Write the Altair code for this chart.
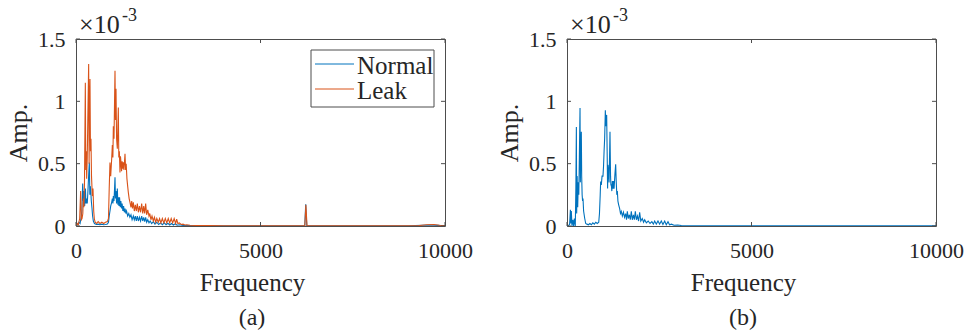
import altair as alt
import pandas as pd

# ---------------- data (amplitudes in units of 1e-3) ----------------
leak_freq = [0, 40, 63, 100, 126, 145, 163, 185, 199, 215, 230, 253, 265, 280, 289, 305, 320, 343, 355, 366,
             379, 392, 406, 420, 443, 460, 480, 497, 520, 560, 600, 650, 700, 750, 800, 850, 880, 900, 921, 940,
             967, 985, 1000, 1012, 1030, 1045, 1057, 1070, 1084, 1100, 1120, 1135, 1147, 1160, 1175, 1192, 1205,
             1219, 1235, 1250, 1265, 1283, 1300, 1315, 1328, 1345, 1360, 1380, 1400, 1418, 1440, 1463, 1490, 1510,
             1530, 1554, 1580, 1608, 1635, 1662, 1690, 1720, 1750, 1780, 1808, 1835, 1862, 1888, 1915, 1945, 1978,
             2000, 2030, 2060, 2096, 2125, 2160, 2190, 2230, 2265, 2300, 2340, 2380, 2420, 2460, 2500, 2540, 2580,
             2620, 2660, 2700, 2728, 2760, 2800, 2850, 2900, 2950, 3000, 3090, 3300, 3600, 4000, 5000, 6200, 6230,
             6260, 7000, 8000, 9000, 9300, 9500, 9700, 9850, 10000]
leak_amp = [0.0, 0.02, 0.01, 0.06, 0.28, 0.05, 0.06, 0.10, 0.22, 0.15, 0.35, 1.15, 0.45, 0.60, 0.38, 0.55, 0.85, 1.30, 0.50, 0.95,
            1.18, 0.60, 0.70, 0.40, 0.24, 0.30, 0.12, 0.056, 0.03, 0.02, 0.035, 0.02, 0.03, 0.02, 0.03, 0.035, 0.06, 0.30, 0.51, 0.40,
            0.54, 0.65, 0.55, 0.80, 0.70, 1.00, 1.245, 0.85, 1.10, 0.70, 0.62, 0.80, 0.95, 0.55, 0.60, 0.43, 0.56,
            0.51, 0.44, 0.52, 0.46, 0.51, 0.45, 0.52, 0.58, 0.45, 0.50, 0.38, 0.32, 0.27, 0.22, 0.19, 0.15, 0.20,
            0.14, 0.19, 0.12, 0.17, 0.12, 0.18, 0.11, 0.16, 0.11, 0.18, 0.10, 0.16, 0.10, 0.18, 0.09, 0.13, 0.08,
            0.10, 0.05, 0.08, 0.04, 0.07, 0.03, 0.06, 0.03, 0.06, 0.025, 0.06, 0.025, 0.06, 0.025, 0.06, 0.025, 0.06,
            0.025, 0.06, 0.02, 0.055, 0.02, 0.025, 0.012, 0.015, 0.008, 0.010, 0.006, 0.004, 0.003, 0.002, 0.002, 0.002, 0.17,
            0.002, 0.002, 0.002, 0.002, 0.004, 0.010, 0.012, 0.006, 0.002]

normal_freq = [0, 40, 80, 110, 140, 160, 181, 200, 220, 235, 255, 270, 289, 305, 320, 334, 361, 375, 385, 397,
               415, 434, 450, 470, 500, 550, 600, 650, 700, 750, 800, 850, 880, 900, 921, 940, 967, 985, 1000, 1012,
               1030, 1045, 1057, 1070, 1084, 1100, 1120, 1135, 1150, 1165, 1180, 1200, 1215, 1235, 1250, 1270, 1290,
               1310, 1330, 1350, 1370, 1400, 1430, 1460, 1490, 1520, 1554, 1580, 1608, 1635, 1662, 1690, 1720, 1750,
               1780, 1808, 1835, 1862, 1888, 1915, 1945, 1978, 2010, 2050, 2096, 2140, 2190, 2240, 2290, 2340, 2390,
               2440, 2490, 2540, 2590, 2640, 2690, 2740, 2800, 2900, 3000, 3200, 4000, 5000, 6200, 6225, 6255, 7000,
               8000, 9000, 9400, 9600, 9800, 10000]
normal_amp = [0.0, 0.01, 0.03, 0.02, 0.07, 0.12, 0.34, 0.20, 0.28, 0.16, 0.30, 0.18, 0.22, 0.18, 0.26, 0.35, 0.51, 0.25, 0.32, 0.30,
              0.20, 0.14, 0.08, 0.04, 0.02, 0.012, 0.015, 0.01, 0.015, 0.01, 0.012, 0.015, 0.03, 0.08, 0.12, 0.16, 0.19, 0.22, 0.18, 0.24,
              0.20, 0.30, 0.39, 0.22, 0.28, 0.18, 0.30, 0.17, 0.23, 0.16, 0.23, 0.15, 0.20, 0.14, 0.18, 0.12, 0.16,
              0.11, 0.14, 0.10, 0.12, 0.08, 0.10, 0.07, 0.09, 0.05, 0.08, 0.05, 0.08, 0.04, 0.08, 0.04, 0.07, 0.04,
              0.08, 0.04, 0.07, 0.035, 0.07, 0.03, 0.05, 0.025, 0.04, 0.02, 0.035, 0.015, 0.03, 0.012, 0.025, 0.01, 0.025,
              0.01, 0.022, 0.008, 0.02, 0.008, 0.018, 0.006, 0.01, 0.005, 0.004, 0.003, 0.002, 0.002, 0.002, 0.175, 0.002, 0.002,
              0.002, 0.002, 0.006, 0.008, 0.005, 0.002]

b_freq = [0, 40, 70, 92, 105, 117, 135, 160, 180, 200, 225, 240, 254, 262, 275, 290, 305, 320, 335, 353,
          362, 372, 388, 398, 410, 422, 434, 450, 478, 507, 540, 580, 620, 660, 700, 740, 780, 820, 860, 880,
          900, 912, 930, 950, 975, 990, 1005, 1020, 1039, 1050, 1060, 1075, 1090, 1100, 1111, 1125, 1140, 1150,
          1165, 1180, 1190, 1201, 1215, 1230, 1245, 1256, 1275, 1300, 1319, 1335, 1350, 1364, 1380, 1400, 1427,
          1450, 1472, 1500, 1530, 1560, 1590, 1612, 1635, 1660, 1690, 1715, 1743, 1770, 1800, 1825, 1852, 1880,
          1910, 1940, 1969, 2000, 2040, 2075, 2105, 2150, 2200, 2250, 2300, 2340, 2376, 2420, 2466, 2510, 2556,
          2600, 2647, 2690, 2737, 2780, 2830, 2900, 3000, 3098, 3300, 4000, 6000, 8000, 10000]
b_amp = [0.0, 0.005, 0.01, 0.13, 0.02, 0.12, 0.0, 0.05, 0.0, 0.06, 0.0, 0.30, 0.795, 0.10, 0.40, 0.15, 0.35, 0.25, 0.55, 0.947,
         0.35, 0.55, 0.755, 0.40, 0.25, 0.20, 0.22, 0.12, 0.064, 0.02, 0.015, 0.01, 0.02, 0.01, 0.025, 0.015, 0.03, 0.02, 0.03, 0.10,
         0.25, 0.356, 0.33, 0.40, 0.40, 0.48, 0.60, 0.70, 0.928, 0.80, 0.88, 0.89, 0.55, 0.30, 0.49, 0.44, 0.35, 0.50,
         0.755, 0.40, 0.33, 0.33, 0.28, 0.36, 0.30, 0.36, 0.30, 0.42, 0.495, 0.35, 0.25, 0.28, 0.20, 0.17, 0.14,
         0.10, 0.117, 0.08, 0.11, 0.07, 0.10, 0.05, 0.117, 0.06, 0.09, 0.05, 0.117, 0.05, 0.09, 0.05, 0.117, 0.05,
         0.08, 0.04, 0.11, 0.04, 0.06, 0.03, 0.05, 0.025, 0.04, 0.02, 0.035, 0.015, 0.04, 0.015, 0.04, 0.015, 0.04,
         0.012, 0.04, 0.01, 0.035, 0.01, 0.015, 0.006, 0.008, 0.004, 0.002, 0.001, 0.001, 0.001, 0.001]

x_ticks = [0, 5000, 10000]
y_ticks = [0, 0.5, 1.0, 1.5]
series_names = ["Normal", "Leak"]
series_colors = ["#0072BD", "#D95319"]
panel_labels = ["(a)", "(b)"]

# ---------------- style ----------------
W, H = 369, 187
FONT = "Liberation Serif, Times New Roman, serif"
TXT = "#262626"
FRAME = "#4d4d4d"

x_scale = alt.Scale(domain=[0, 10000], nice=False, zero=False)
y_scale = alt.Scale(domain=[0, 1.5], nice=False, zero=False)


def x_enc():
    return alt.X("freq:Q", scale=x_scale,
                 axis=alt.Axis(values=x_ticks, format="d", title="Frequency", ticks=False, domain=False,
                               grid=False, labelPadding=14, titlePadding=9, titleX=176,
                               labelFontSize=22, titleFontSize=25, labelFlush=False))


def y_enc():
    return alt.Y("amp:Q", scale=y_scale,
                 axis=alt.Axis(values=y_ticks, labelExpr="'' + datum.value", title="Amp.", ticks=False,
                               domain=False, grid=False, labelPadding=11, titlePadding=6,
                               labelFontSize=22, titleFontSize=26, labelFlush=False))


def line_layer(freq, amp, color):
    df = pd.DataFrame({"freq": freq, "amp": amp})
    return alt.Chart(df).mark_line(color=color, strokeWidth=1.1, clip=True).encode(x=x_enc(), y=y_enc())


def tick_layers():
    xt = pd.DataFrame({"freq": x_ticks})
    yt = pd.DataFrame({"amp": y_ticks})
    r = dict(color=FRAME, strokeWidth=1)
    return [
        alt.Chart(xt).mark_rule(**r).encode(x=x_enc(), y=alt.value(H), y2=alt.value(H - 4)),
        alt.Chart(xt).mark_rule(**r).encode(x=x_enc(), y=alt.value(0), y2=alt.value(4)),
        alt.Chart(yt).mark_rule(**r).encode(y=y_enc(), x=alt.value(0), x2=alt.value(4)),
        alt.Chart(yt).mark_rule(**r).encode(y=y_enc(), x=alt.value(W - 4), x2=alt.value(W)),
    ]


one = pd.DataFrame({"k": [0]})


def text_layer(txt, x, y, size, align="left"):
    return alt.Chart(one).mark_text(text=txt, align=align, baseline="alphabetic", fontSize=size,
                                    font=FONT, color=TXT).encode(x=alt.value(x), y=alt.value(y))


def decorations(label):
    return [
        text_layer("×10", 3, -6, 26),
        text_layer("-3", 46, -18, 18),
        text_layer(label, 176, H + 99, 24, align="center"),
    ]


def legend_layers():
    layers = [alt.Chart(one).mark_rect(fill="white", stroke=FRAME, strokeWidth=1).encode(
        x=alt.value(235), x2=alt.value(358), y=alt.value(11), y2=alt.value(68))]
    for i, (name, col) in enumerate(zip(series_names, series_colors)):
        ly = 25 + 25 * i
        layers.append(alt.Chart(one).mark_rule(color=col, strokeWidth=1).encode(
            x=alt.value(239), x2=alt.value(278), y=alt.value(ly)))
        layers.append(text_layer(name, 281, ly + 10, 25))
    return layers


panel_a = alt.layer(
    line_layer(normal_freq, normal_amp, series_colors[0]),
    line_layer(leak_freq, leak_amp, series_colors[1]),
    *tick_layers(),
    *legend_layers(),
    *decorations(panel_labels[0]),
).properties(width=W, height=H)

panel_b = alt.layer(
    line_layer(b_freq, b_amp, series_colors[0]),
    *tick_layers(),
    *decorations(panel_labels[1]),
).properties(width=W, height=H)

chart = alt.hconcat(panel_a, panel_b, spacing=122, bounds="flush").properties(
    padding={"left": 5, "top": 6, "right": 0, "bottom": 0}
).configure_view(stroke=FRAME, strokeWidth=1).configure_axis(
    labelFont=FONT, titleFont=FONT, labelColor=TXT, titleColor=TXT, titleFontWeight="normal"
)

chart.save("out.html", embed_options={"renderer": "svg", "actions": False})
